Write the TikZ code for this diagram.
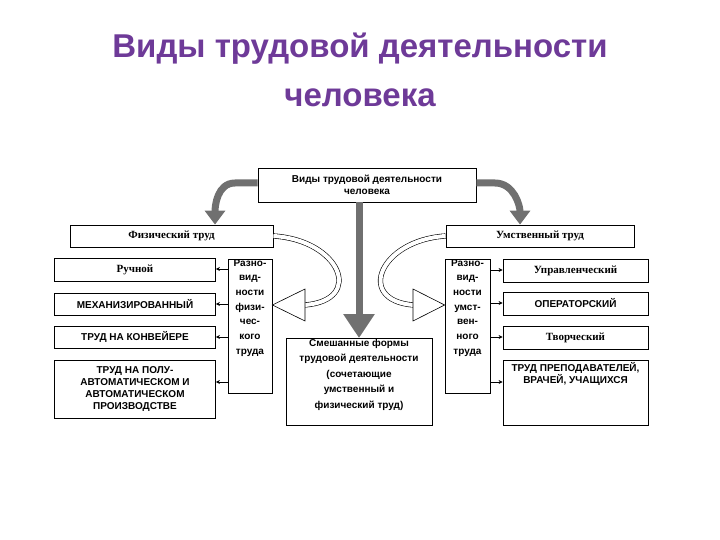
\documentclass[tikz,border=0pt]{standalone}
\usepackage{fontspec}
\setmainfont{Liberation Serif}
\newfontfamily\sansf{Liberation Sans}
\usetikzlibrary{arrows.meta}
\definecolor{titlec}{HTML}{6E3A98}
\tikzset{
  box/.style={draw, line width=0.8pt, fill=white, inner sep=1pt, align=center, font=\sansf\bfseries\fontsize{10}{12}\selectfont},
  sbox/.style={box, font=\bfseries\fontsize{11}{13}\selectfont},
  txt/.style={align=center, inner sep=0pt, anchor=north, font=\sansf\bfseries\fontsize{10}{14.7}\selectfont},
  grayarrow/.style={line width=7pt, gray!60!black!80, -{Triangle[width=20pt,length=14pt]}},
  small/.style={line width=0.6pt, -{Stealth[length=4pt,width=4pt]}}
}
\begin{document}
\begin{tikzpicture}[x=1pt,y=-1pt]
	\useasboundingbox (0,0) rectangle (720,540);
	\node[text=titlec, font=\sansf\bfseries\fontsize{33}{49}\selectfont, align=center] (title) at (360,70) {Виды трудовой деятельности\\человека};
	% top and main boxes
	\node[box, minimum width=218pt, minimum height=34pt] (top) at (367,185) {Виды трудовой деятельности\\человека};
	\node[sbox, minimum width=203pt, minimum height=22pt] (fiz) at (171.5,236) {Физический труд};
	\node[sbox, minimum width=188pt, minimum height=22pt] (umst) at (540,236) {Умственный труд};
	\node[box, minimum width=146pt, minimum height=87pt, anchor=north] (mix) at (359,338) {};
	\node[txt, font=\sansf\bfseries\fontsize{10}{15.5}\selectfont] (mixt) at (359,339) {Смешанные формы\\трудовой деятельности\\(сочетающие\\умственный и\\физический труд)};
	% columns
	\node[box, minimum width=44pt, minimum height=134pt, anchor=north] (vfiz) at (250,259) {};
	\node[txt] (vfizt) at (250,259) {Разно-\\вид-\\ности\\физи-\\чес-\\кого\\труда};
	\node[box, minimum width=45pt, minimum height=134pt, anchor=north] (vumst) at (467.5,259) {};
	\node[txt] (vumstt) at (467.5,259) {Разно-\\вид-\\ности\\умст-\\вен-\\ного\\труда};
	% left items
	\node[sbox, minimum width=161pt, minimum height=23pt] (f1) at (135,269.5) {Ручной};
	\node[box, minimum width=161pt, minimum height=22pt] (f2) at (135,304) {МЕХАНИЗИРОВАННЫЙ};
	\node[box, minimum width=161pt, minimum height=22pt] (f3) at (135,337) {ТРУД НА КОНВЕЙЕРЕ};
	\node[box, minimum width=161pt, minimum height=58pt, anchor=north] (f4) at (135,360) {ТРУД НА ПОЛУ-\\АВТОМАТИЧЕСКОМ И\\АВТОМАТИЧЕСКОМ\\ПРОИЗВОДСТВЕ};
	% right items
	\node[sbox, minimum width=145pt, minimum height=23pt] (u1) at (575.5,270.5) {Управленческий};
	\node[box, minimum width=145pt, minimum height=23pt] (u2) at (575.5,303.5) {ОПЕРАТОРСКИЙ};
	\node[sbox, minimum width=145pt, minimum height=23pt] (u3) at (575.5,337.5) {Творческий};
	\node[box, minimum width=145pt, minimum height=65pt, anchor=north] (u4) at (575.5,360) {};
	\node[txt, font=\sansf\bfseries\fontsize{10}{12.5}\selectfont] (u4t) at (575.5,362) {ТРУД ПРЕПОДАВАТЕЛЕЙ,\\ВРАЧЕЙ, УЧАЩИХСЯ};
	% gray arrows
	\draw[grayarrow] (top.west |- 0,183) -- (235,183) to[out=180,in=90] (fiz.north -| 215,0);
	\draw[grayarrow] (top.east |- 0,183) -- (495,183) to[out=0,in=90] (umst.north -| 520,0);
	\draw[grayarrow, -{Triangle[width=30pt,length=24pt]}] (top.south -| 359,0) -- (mix.north -| 359,0);
	% hollow arrows
	\draw[double=white, double distance=4pt, line width=0.6pt] (fiz.east) .. controls (340,240) and (365,300) .. (305,305);
	\draw[line width=0.6pt, fill=white] (305,289) -- (vfiz.east |- 0,305) -- (305,321) -- cycle;
	\draw[double=white, double distance=4pt, line width=0.6pt] (umst.west) .. controls (380,240) and (355,300) .. (413,305);
	\draw[line width=0.6pt, fill=white] (413,289) -- (vumst.west |- 0,305) -- (413,321) -- cycle;
	% small arrows
	\foreach \n/\y in {f1/269, f2/304, f3/337, f4/382}
		\draw[small] (vfiz.west |- 0,\y) -- (\n.east |- 0,\y);
	\foreach \n/\y in {u1/270, u2/303, u3/337, u4/382}
		\draw[small] (vumst.east |- 0,\y) -- (\n.west |- 0,\y);
\end{tikzpicture}
\end{document}
